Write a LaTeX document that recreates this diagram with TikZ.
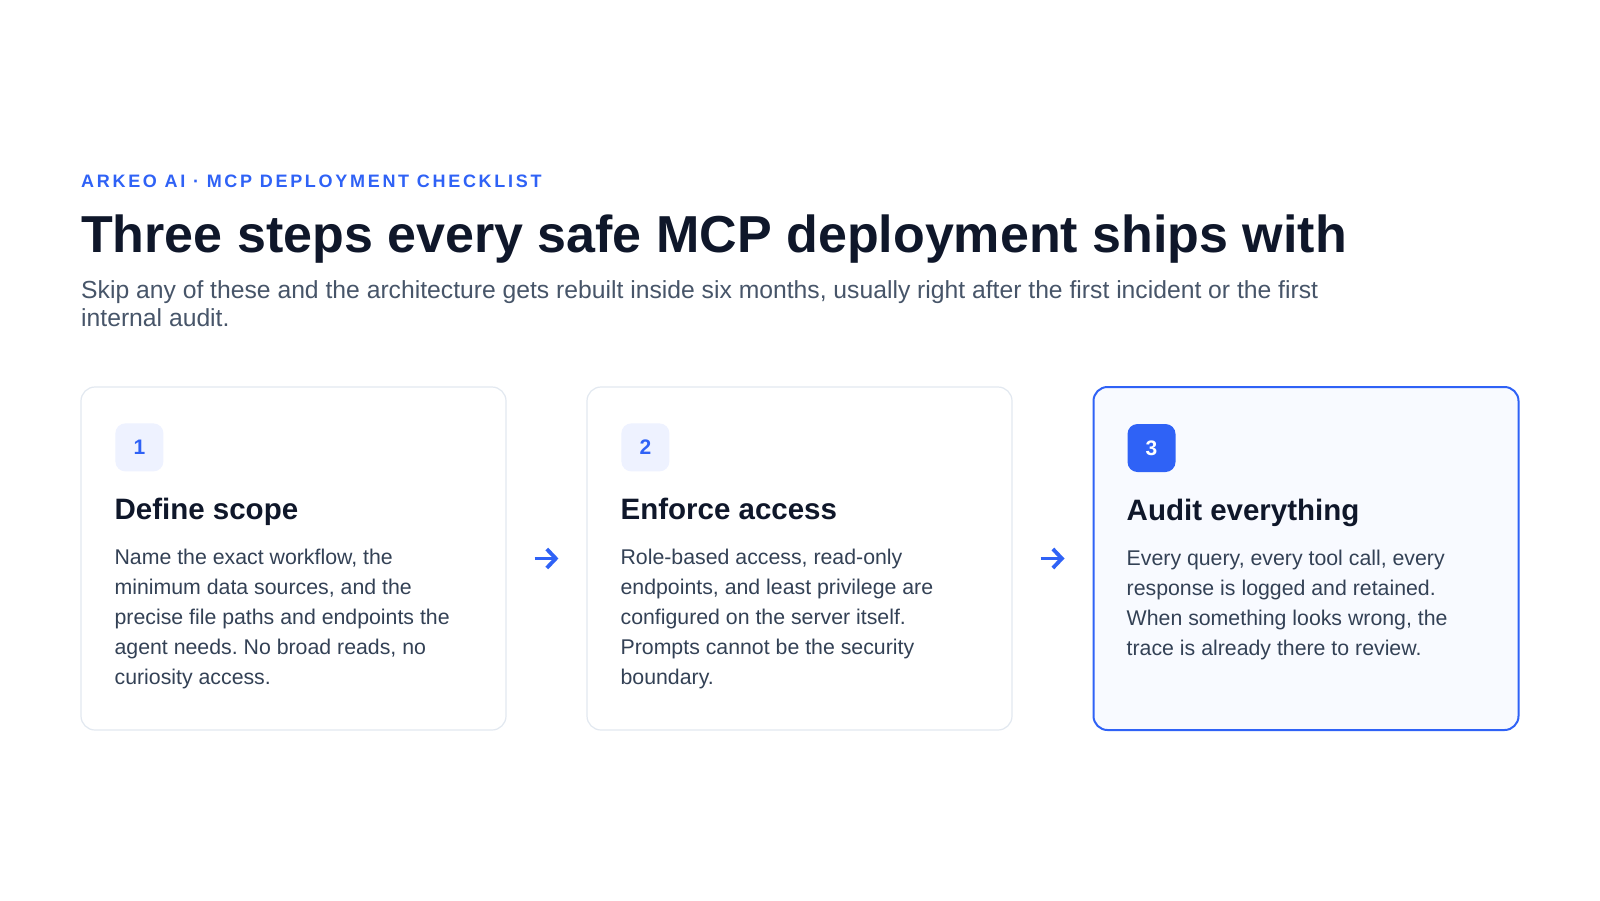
\documentclass[tikz,border=0pt]{standalone}
\usepackage{fontspec}
\setmainfont{Liberation Sans}
\newfontfamily\kickerfont{Liberation Sans}[LetterSpace=15]
\usetikzlibrary{arrows.meta}
\frenchspacing

\definecolor{brand}{HTML}{2F62F6}
\definecolor{ink}{HTML}{0F172A}
\definecolor{slatebody}{HTML}{334155}
\definecolor{slatesub}{HTML}{475569}
\definecolor{cardline}{HTML}{E2E8F0}
\definecolor{badgefill}{HTML}{EEF2FF}
\definecolor{activefill}{HTML}{F8FAFF}

% top strut, so that a block's first baseline lies 20pt below its north edge
\newcommand{\leadstrut}{\rule{0pt}{20pt}}

\begin{document}
\begin{tikzpicture}[x=1pt,y=-1pt,
    card/.style={draw=cardline,line width=1.2pt,fill=white,rounded corners=14pt,
      minimum width=425pt,minimum height=343pt,inner sep=0pt},
    activecard/.style={card,draw=brand,line width=2pt,fill=activefill},
    badge/.style={fill=badgefill,text=brand,rounded corners=10pt,minimum size=48pt,
      inner sep=0pt,font=\fontsize{21}{24}\selectfont\bfseries},
    activebadge/.style={badge,fill=brand,text=white},
    head/.style={anchor=base west,inner sep=0pt,text=ink,font=\fontsize{29.5}{34}\selectfont\bfseries},
    body/.style={anchor=north west,inner sep=0pt,align=left,text=slatebody,
      font=\fontsize{21.3}{30}\selectfont},
    flow/.style={draw=brand,line width=3.8pt,shorten <=28pt,shorten >=28pt,
      -{Straight Barb[length=9pt,width=19pt]}}]
        \fill[white] (0,0) rectangle (1600,900);
        \useasboundingbox (0,0) rectangle (1600,900);

        % header
        \node[anchor=base west,inner sep=0pt,text=brand,font=\kickerfont\fontsize{18}{20}\selectfont\bfseries]
          (kicker) at (81,187) {ARKEO AI · MCP DEPLOYMENT CHECKLIST};
        \node[anchor=base west,inner sep=0pt,text=ink,font=\fontsize{52}{58}\selectfont\bfseries]
          (title) at (81,252) {Three steps every safe MCP deployment ships with};
        \node[anchor=north west,inner sep=0pt,align=left,text=slatesub,font=\fontsize{24.7}{28}\selectfont]
          (subtitle) at (81,278) {\leadstrut Skip any of these and the architecture gets rebuilt inside six months, usually right after the first incident or the first\\internal audit.};

        % cards
        \node[card] (card1) at (293.5,558.5) {};
        \node[card] (card2) at (799.5,558.5) {};
        \node[activecard] (card3) at (1306,558.5) {};

        \node[badge] (badge1) at ([shift={(59,61)}]card1.north west) {1};
        \node[badge] (badge2) at ([shift={(59,61)}]card2.north west) {2};
        \node[activebadge] (badge3) at ([shift={(59,62)}]card3.north west) {3};

        \node[head] (head1) at ([shift={(34,133)}]card1.north west) {Define scope};
        \node[head] (head2) at ([shift={(34,133)}]card2.north west) {Enforce access};
        \node[head] (head3) at ([shift={(34,134)}]card3.north west) {Audit everything};

        \node[body] (body1) at ([shift={(34,158)}]card1.north west)
          {\leadstrut Name the exact workflow, the\\minimum data sources, and the\\precise file paths and endpoints the\\agent needs. No broad reads, no\\curiosity access.};
        \node[body] (body2) at ([shift={(34,158)}]card2.north west)
          {\leadstrut Role-based access, read-only\\endpoints, and least privilege are\\configured on the server itself.\\Prompts cannot be the security\\boundary.};
        \node[body] (body3) at ([shift={(34,159)}]card3.north west)
          {\leadstrut Every query, every tool call, every\\response is logged and retained.\\When something looks wrong, the\\trace is already there to review.};

        % arrows between steps
        \draw[flow] (card1.east) -- (card2.west);
        \draw[flow] (card2.east) -- (card3.west);
\end{tikzpicture}
\end{document}
